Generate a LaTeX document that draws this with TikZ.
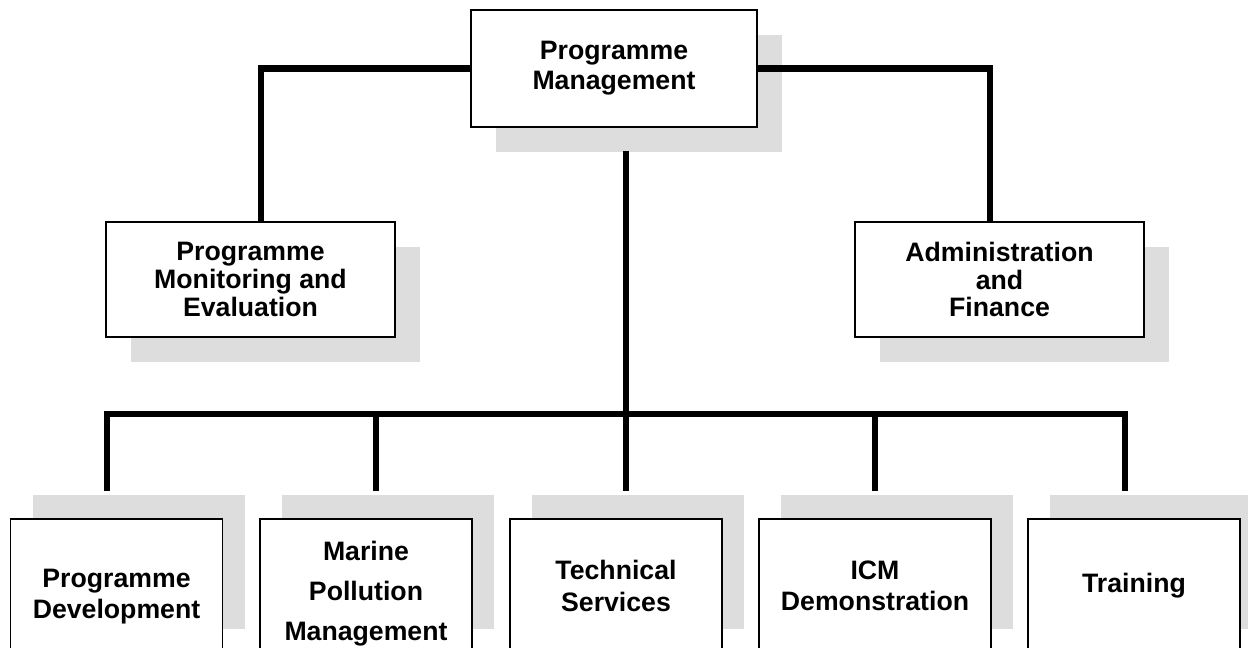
\documentclass[tikz,border=0pt]{standalone}
\usepackage{fontspec}
\setmainfont{Liberation Sans}
\usetikzlibrary{shadows}
\definecolor{shc}{HTML}{DDDDDD}
\begin{document}
\begin{tikzpicture}[x=0.75pt,y=-0.75pt,
  box/.style={draw=black, line width=1.4pt, fill=white, inner sep=0pt, align=center,
    font=\bfseries\fontsize{20}{20.7}\selectfont},
  downshadow/.style={drop shadow={shadow xshift=18.5pt, shadow yshift=-18.5pt, fill=shc, opacity=1}},
  upshadow/.style={drop shadow={shadow xshift=16.5pt, shadow yshift=18pt, fill=shc, opacity=1}},
  topbox/.style={box, downshadow, minimum width=214.5pt, minimum height=87.75pt,
    font=\bfseries\fontsize{20}{22.5}\selectfont},
  midbox/.style={box, downshadow, minimum width=216.75pt, minimum height=86.25pt},
  botbox/.style={box, upshadow, minimum width=159pt, minimum height=100.5pt,
    font=\bfseries\fontsize{20}{23.5}\selectfont},
  conn/.style={line width=4.6pt, line join=miter, line cap=butt}]
\useasboundingbox (0,0) rectangle (1248,648);
\clip (0,0) rectangle (1248,648);

% boxes
\node[topbox] (pm) at (614,68.5) {Programme\\Management};
\node[midbox] (pme) at (250.5,279.5) {Programme\\Monitoring and\\Evaluation};
\node[midbox] (af) at (999.5,279.5) {Administration\\and\\Finance};

\node[botbox] (b1) at (116.5,586) {\rule{0pt}{29.5pt}Programme\\Development};
\node[botbox, font=\bfseries\fontsize{20}{30}\selectfont] (b2) at (366,586) {\rule{0pt}{26.5pt}Marine\\Pollution\\Management};
\node[botbox] (b3) at (616,586) {Technical\\Services};
\node[botbox, minimum width=174pt] (b4) at (875,586) {ICM\\Demonstration};
\node[botbox] (b5) at (1134,586) {Training};

% connector points
\coordinate (jl) at (261,68.5);
\coordinate (jr) at (990,70);
\coordinate (top) at (626,151);
\coordinate (bar) at (626,414);
\coordinate (d1) at (107,491);
\coordinate (d2) at (376,491);
\coordinate (d3) at (626,491);
\coordinate (d4) at (875,491);
\coordinate (d5) at (1125,491);

% connectors
\draw[conn] (pm.west) -| (jl |- pme.north);
\draw[conn] (pm.east) -| (jr |- af.north);
\draw[conn] (top) -- (bar);
\draw[conn] (d1) -- (d1 |- bar) -- (d5 |- bar) -- (d5);
\draw[conn] (d2 |- bar) -- (d2);
\draw[conn] (d3 |- bar) -- (d3);
\draw[conn] (d4 |- bar) -- (d4);
\end{tikzpicture}
\end{document}
